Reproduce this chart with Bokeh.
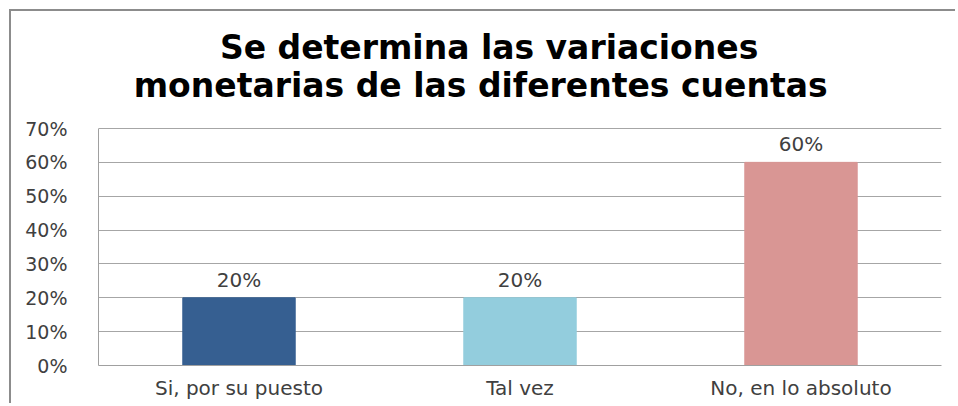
from bokeh.plotting import figure
from bokeh.models import ColumnDataSource, FactorRange, FixedTicker, NumeralTickFormatter, LabelSet
from bokeh.core.properties import value
from bokeh.embed import file_html
from bokeh.resources import INLINE

categories = ["Si, por su puesto", "Tal vez", "No, en lo absoluto"]
values = [0.20, 0.20, 0.60]
value_labels = ["20%", "20%", "60%"]
colors = ["#365F91", "#93CDDD", "#D99694"]
title_lines = ["Se determina las variaciones", "monetarias de las diferentes cuentas"]
y_ticks = [0, 0.1, 0.2, 0.3, 0.4, 0.5, 0.6, 0.7]

# layout (screen space above the value axis is used for the two title lines)
Y_TOP = 1.0456
title_x = [1.39, 1.36]
title_y = [0.939, 0.827]

src = ColumnDataSource(dict(cat=categories, val=values, lab=value_labels, col=colors))

p = figure(x_range=FactorRange(*categories, range_padding=0), y_range=(0, Y_TOP),
           width=946, height=394, output_backend="svg", toolbar_location=None,
           min_border_left=87, min_border_right=16, min_border_top=0, min_border_bottom=40)
p.styles = {"border-top": "2px solid #8C8C8C", "border-left": "2px solid #8C8C8C",
            "margin-left": "9px", "margin-top": "9px"}
p.title.visible = False
p.outline_line_color = None
p.background_fill_color = "white"
p.border_fill_color = "white"

p.vbar(x="cat", top="val", width=0.4, fill_color="col", line_color="col", source=src)

labels = LabelSet(x="cat", y="val", text="lab", source=src, text_align="center",
                  text_baseline="middle", y_offset=18, text_font=value("DejaVu Sans"),
                  text_font_size=value("20px"), text_color=value("#404040"))
p.add_layout(labels)

p.text(x=title_x, y=title_y, text=title_lines, text_align="center", text_baseline="middle",
       text_font=value("DejaVu Sans"), text_font_style="bold", text_font_size=value("33px"),
       text_color="#000000")

p.yaxis.ticker = FixedTicker(ticks=y_ticks)
p.yaxis.bounds = (0, 0.7)
p.yaxis.formatter = NumeralTickFormatter(format="0%")
p.yaxis.major_tick_line_color = None
p.yaxis.minor_tick_line_color = None
p.yaxis.axis_line_color = "#A0A0A0"
p.yaxis.major_label_standoff = 25
p.yaxis.major_label_text_font = "DejaVu Sans"
p.yaxis.major_label_text_font_size = "19px"
p.yaxis.major_label_text_color = "#404040"

p.xaxis.major_tick_line_color = None
p.xaxis.axis_line_color = "#A0A0A0"
p.xaxis.major_label_standoff = 4
p.xaxis.major_label_text_font = "DejaVu Sans"
p.xaxis.major_label_text_font_size = "20px"
p.xaxis.major_label_text_color = "#404040"

p.xgrid.grid_line_color = None
p.ygrid.grid_line_color = "#A6A6A6"
p.ygrid.ticker = FixedTicker(ticks=y_ticks)

open("out.html", "w").write(file_html(p, INLINE))
